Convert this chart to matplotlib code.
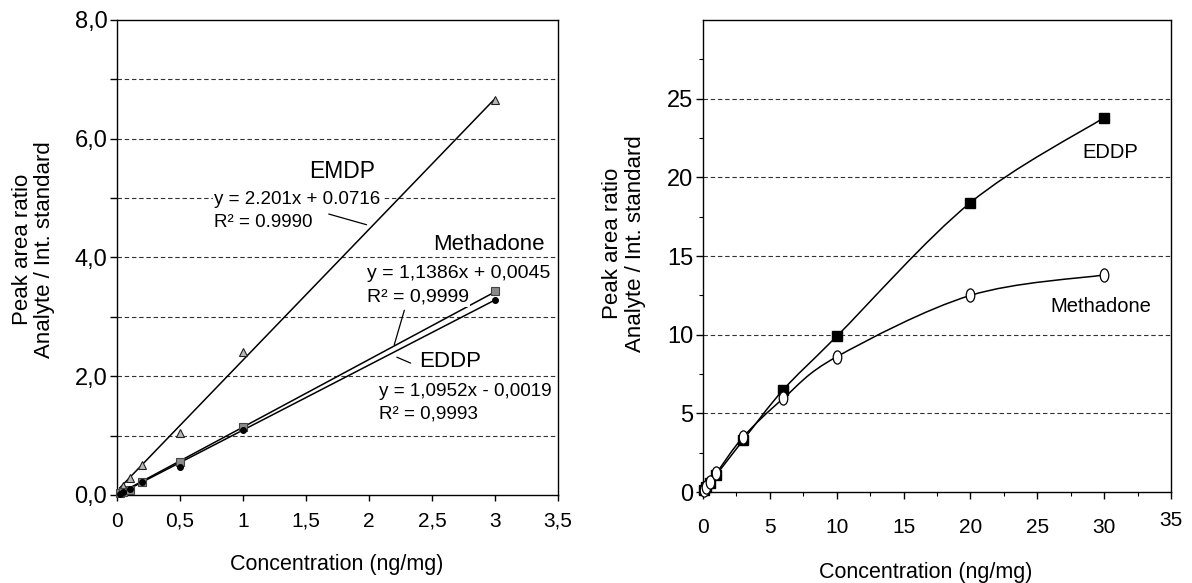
import numpy as np
import matplotlib
matplotlib.use("Agg")
import matplotlib.pyplot as plt
from matplotlib.path import Path
from matplotlib.patches import PathPatch
from matplotlib.transforms import Affine2D, ScaledTranslation
from matplotlib.ticker import FixedLocator, FuncFormatter, MultipleLocator

plt.rcParams["font.family"] = ["Liberation Sans", "DejaVu Sans"]

# left panel: low concentration calibration (ng/mg)
conc_low = [0.02, 0.05, 0.1, 0.2, 0.5, 1.0, 3.0]
emdp_low = [0.07, 0.15, 0.28, 0.50, 1.05, 2.40, 6.65]
methadone_low = [0.03, 0.05, 0.08, 0.22, 0.55, 1.14, 3.43]
eddp_low = [0.02, 0.05, 0.10, 0.21, 0.47, 1.09, 3.29]

# trendline coefficients printed on the chart (slope, intercept)
emdp_fit = (2.201, 0.0716)
methadone_fit = (1.1386, 0.0045)
eddp_fit = (1.0952, -0.0019)

# right panel: full range
conc_high = [0.1, 0.25, 0.5, 1.0, 3.0, 6.0, 10.0, 20.0, 30.0]
eddp_high = [0.1, 0.3, 0.6, 1.1, 3.3, 6.5, 9.9, 18.4, 23.8]
methadone_high = [0.1, 0.3, 0.64, 1.2, 3.5, 5.95, 8.6, 12.5, 13.8]

YLABEL = "Peak area ratio\nAnalyte / Int. standard"
XLABEL = "Concentration (ng/mg)"


def comma(v, _pos=None):
    return ("%g" % v).replace(".", ",")


def smooth_path(xs, ys):
    # Excel-style smoothed line: Catmull-Rom as cubic Bezier segments
    p = np.column_stack([xs, ys])
    n = len(p)
    verts = [p[0]]
    codes = [Path.MOVETO]
    for i in range(n - 1):
        p0 = p[max(i - 1, 0)]
        p1, p2 = p[i], p[i + 1]
        p3 = p[min(i + 2, n - 1)]
        verts += [p1 + (p2 - p0) / 6, p2 - (p3 - p1) / 6, p2]
        codes += [Path.CURVE4] * 3
    return Path(verts, codes)


def grid_lines(ax, values):
    for v in values:
        ax.axhline(v, color="#333333", lw=0.8, ls=(0, (4, 2.5)), zorder=0)


fig = plt.figure(figsize=(11.92, 5.83), dpi=100)

# ---------- left panel ----------
ax1 = fig.add_axes([0.0982, 0.151, 0.370, 0.815])
ax1.set_xlim(0, 3.5)
ax1.set_ylim(0, 8)
grid_lines(ax1, range(1, 8))

for fit in (emdp_fit, methadone_fit, eddp_fit):
    xs = np.array([conc_low[0], conc_low[-1]])
    ax1.plot(xs, fit[0] * xs + fit[1], color="black", lw=1.1, zorder=2)

ax1.plot(conc_low, emdp_low, ls="none", marker="^", ms=5.5, mfc="#b8b8b8",
         mec="#222222", mew=0.8, zorder=3, clip_on=False)
ax1.plot(conc_low, methadone_low, ls="none", marker="s", ms=6, mfc="#8a8a8a",
         mec="#444444", mew=0.8, zorder=3, clip_on=False)
ax1.plot(conc_low, eddp_low, ls="none", marker="o", ms=4, mfc="black",
         mec="black", zorder=3, clip_on=False)

box = dict(facecolor="white", edgecolor="none", pad=1)
ax1.text(1.79, 5.45, "EMDP", fontsize=16.5, ha="center", va="center")
ax1.text(0.77, 4.98, "y = 2.201x + 0.0716", fontsize=13.5, va="center", bbox=box)
ax1.text(0.77, 4.58, "R² = 0.9990", fontsize=13.5, va="center", bbox=box)
ax1.text(3.39, 4.22, "Methadone", fontsize=16, ha="right", va="center", bbox=box)
ax1.text(1.98, 3.73, "y = 1,1386x + 0,0045", fontsize=14, va="center", bbox=box)
ax1.text(1.98, 3.33, "R² = 0,9999", fontsize=14, va="center", bbox=box)
ax1.text(2.40, 2.24, "EDDP", fontsize=16, va="center")
ax1.text(2.08, 1.75, "y = 1,0952x - 0,0019", fontsize=13.6, va="center", bbox=box)
ax1.text(2.08, 1.36, "R² = 0,9993", fontsize=13.6, va="center", bbox=box)

lead = dict(arrowstyle="-", color="black", lw=0.9, shrinkA=0, shrinkB=0)
ax1.annotate("", xy=(1.98, 4.55), xytext=(1.68, 4.73), arrowprops=lead)
ax1.annotate("", xy=(2.20, 2.53), xytext=(2.28, 3.11), arrowprops=lead)
ax1.annotate("", xy=(2.33, 2.22), xytext=(2.22, 2.32), arrowprops=lead)

ax1.yaxis.set_major_locator(MultipleLocator(1))
ax1.yaxis.set_major_formatter(
    FuncFormatter(lambda v, p: ("%.1f" % v).replace(".", ",") if round(v) % 2 == 0 else ""))
ax1.xaxis.set_major_locator(MultipleLocator(0.5))
ax1.xaxis.set_major_formatter(FuncFormatter(comma))
ax1.tick_params(axis="y", labelsize=17, length=5, width=1, pad=2)
ax1.tick_params(axis="x", labelsize=15, length=4, width=1, pad=8)
ax1.set_xlabel(XLABEL, fontsize=15.5, va="center")
ax1.xaxis.set_label_coords(0.499, -0.147)
ax1.set_ylabel(YLABEL, fontsize=16, va="center", linespacing=1.05)
ax1.yaxis.set_label_coords(-0.19, 0.516)

# ---------- right panel ----------
ax2 = fig.add_axes([0.5898, 0.156, 0.3926, 0.8096])
ax2.set_xlim(0, 35)
ax2.set_ylim(0, 30)
grid_lines(ax2, [5, 10, 15, 20, 25])

for ys in (eddp_high, methadone_high):
    ax2.add_patch(PathPatch(smooth_path(conc_high, ys), fill=False,
                            ec="black", lw=1.1, zorder=2))

ellipse = Path.unit_circle().transformed(Affine2D().scale(0.65, 1.0))
ax2.plot(conc_high, eddp_high, ls="none", marker="s", ms=7, mfc="black",
         mec="black", zorder=3, clip_on=False)
ax2.plot(conc_high, methadone_high, ls="none", marker=ellipse, ms=9.5, mfc="white",
         mec="black", mew=0.9, zorder=4, clip_on=False)

ax2.text(28.4, 21.6, "EDDP", fontsize=14.5, va="center")
ax2.text(25.95, 11.8, "Methadone", fontsize=14.5, va="center")

ax2.xaxis.set_major_locator(MultipleLocator(5))
ax2.xaxis.set_minor_locator(MultipleLocator(2.5))
ax2.yaxis.set_major_locator(FixedLocator([0, 5, 10, 15, 20, 25]))
ax2.yaxis.set_minor_locator(FixedLocator(np.arange(2.5, 30, 2.5)))
ax2.tick_params(axis="y", which="major", labelsize=17, length=5, width=1, pad=2)
ax2.tick_params(axis="x", which="major", labelsize=15, length=5, width=1, pad=14)
ax2.tick_params(which="minor", length=3, width=0.8)
ax2.set_xlabel(XLABEL, fontsize=15.5, va="center")
ax2.xaxis.set_label_coords(0.475, -0.17)
ax2.set_ylabel(YLABEL, fontsize=16, va="center", linespacing=1.1)
ax2.yaxis.set_label_coords(-0.169, 0.527)

for ax in (ax1, ax2):
    for s in ax.spines.values():
        s.set_linewidth(1.0)

# the "35" label sits a little higher in the original
fig.canvas.draw()
for tick in ax2.xaxis.get_major_ticks():
    if abs(tick.get_loc() - 35) < 1e-6:
        lab = tick.label1
        lab.set_transform(lab.get_transform() + ScaledTranslation(0, 5 / 72, fig.dpi_scale_trans))

fig.savefig("out.png", dpi=100, facecolor="white")
